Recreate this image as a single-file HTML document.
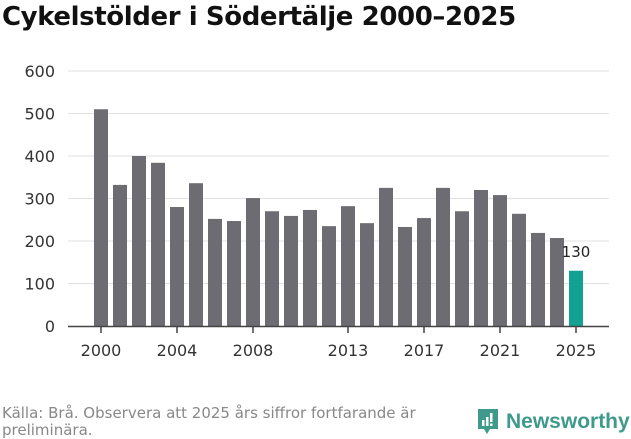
<!DOCTYPE html>
<html><head><meta charset="utf-8"><style>
body{margin:0;width:631px;height:439px;background:#fff;font-family:"Liberation Sans","DejaVu Sans",sans-serif;overflow:hidden;position:relative}
h1{position:absolute;left:2px;top:2px;margin:0;font-family:"DejaVu Sans",sans-serif;font-size:26px;font-weight:bold;color:#111;letter-spacing:-0.4px;white-space:nowrap}
.src{position:absolute;left:2px;top:405px;font-family:"DejaVu Sans",sans-serif;font-size:15px;color:#888;line-height:17px;width:440px}
.logo{position:absolute;left:476px;top:408px;display:flex;align-items:center;color:#3f9a8c;font-size:21px;font-weight:bold}
</style></head><body>
<h1>Cykelstölder i Södertälje 2000–2025</h1>
<svg id="c" width="631" height="439" style="position:absolute;left:0;top:0"></svg>
<div class="src">Källa: Brå. Observera att 2025 års siffror fortfarande är preliminära.</div>
<div class="logo"><svg width="24" height="28" viewBox="0 0 24 28"><path d="M2 1h20v20H14l-3 5-3-5H2z" fill="#3f9a8c"/><rect x="6" y="12" width="2.5" height="6" fill="#fff"/><rect x="10" y="9" width="2.5" height="9" fill="#fff"/><rect x="14" y="5" width="2.5" height="9" fill="#fff"/><rect x="14" y="15.5" width="2.5" height="2.5" fill="#fff"/></svg><span style="margin-left:6px">Newsworthy</span></div>
<script>
const years=[2000,2001,2002,2003,2004,2005,2006,2007,2008,2009,2010,2011,2012,2013,2014,2015,2016,2017,2018,2019,2020,2021,2022,2023,2024,2025];
const values=[510,332,400,384,280,336,252,247,301,270,259,273,235,282,242,325,233,254,325,270,320,308,264,219,207,130];
const yTicks=[0,100,200,300,400,500,600];
const xTickYears=[2000,2004,2008,2013,2017,2021,2025];
const svg=document.getElementById('c'),NS='http://www.w3.org/2000/svg';
const y=v=>326-v*255/600, x=yr=>101+(yr-2000)*19;
function el(t,a,p){const e=document.createElementNS(NS,t);for(const k in a)e.setAttribute(k,a[k]);(p||svg).appendChild(e);return e;}
yTicks.forEach(t=>{
 if(t>0){const g=el('line',{x1:68,x2:609,y1:y(t),y2:y(t),stroke:'#e2e2e2','stroke-width':1});
 
 }
 const l=el('text',{x:55,y:y(t)+6,'text-anchor':'end','font-size':16,fill:'#333','font-family':'DejaVu Sans, sans-serif'});l.textContent=t;
 
 
});
years.forEach((yr,i)=>{
 const v=values[i];const last=i===years.length-1;
 const r=el('rect',{x:x(yr)-7,y:y(v),width:14,height:326-y(v),fill:last?'#12a193':'#6d6c72'});
 
 
 if(last){const t=el('text',{x:x(yr),y:y(v)-14,'text-anchor':'middle','font-size':15,fill:'#222','font-family':'DejaVu Sans, sans-serif'});t.textContent=v;
 
 }
});
const ax=el('line',{x1:68,x2:609,y1:326.5,y2:326.5,stroke:'#444','stroke-width':1.5});


xTickYears.forEach(yr=>{
 const tk=el('line',{x1:x(yr),x2:x(yr),y1:327,y2:333,stroke:'#444','stroke-width':1.5});
 
 
 const t=el('text',{x:x(yr),y:356,'text-anchor':'middle','font-size':16,fill:'#333','font-family':'DejaVu Sans, sans-serif'});t.textContent=yr;
 
 
});
</script>
</body></html>
